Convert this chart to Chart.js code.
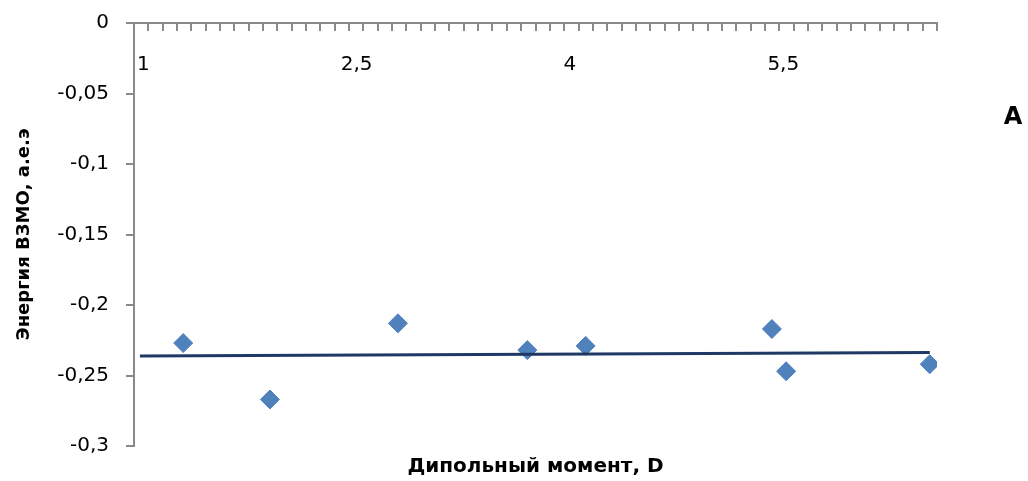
<!DOCTYPE html>
<html><head><meta charset="utf-8">
<script src="https://cdn.jsdelivr.net/npm/chart.js@4"></script>
<style>html,body{margin:0;padding:0;background:#fff}canvas{display:block}</style>
</head><body>
<canvas id="c" width="1028" height="481"></canvas>
<script>
// ---- data ----
const dipoleMoment = [1.28, 1.89, 2.79, 3.70, 4.11, 5.42, 5.52, 6.53];
const homoEnergy   = [-0.227, -0.267, -0.213, -0.232, -0.229, -0.217, -0.247, -0.242];
const trendX = [0.976, 6.53];
const trendY = [-0.2362, -0.2336];
const xTickValues = [1, 2.5, 4, 5.5];
const xTickLabels = ['1', '2,5', '4', '5,5'];
const yTickLabels = ['-0,3', '-0,25', '-0,2', '-0,15', '-0,1', '-0,05', '0'];
const xTitle = 'Дипольный момент, D';
const yTitle = 'Энергия ВЗМО, а.е.э';
const panelLabel = 'A';
const xMin = 0.934, xMax = 6.581, xMinorCount = 56;
const yMin = -0.3, yMax = 0, yStep = 0.05;

const axisGray = '#8a8a8a';
Chart.defaults.font.family = '"DejaVu Sans", sans-serif';

const panelLabelPlugin = {
  id: 'panelLabel',
  afterDraw(chart) {
    const {ctx, chartArea} = chart;
    ctx.save();
    ctx.font = 'bold 24px "DejaVu Sans"';
    ctx.fillStyle = '#000';
    ctx.textAlign = 'center';
    ctx.textBaseline = 'middle';
    ctx.fillText(panelLabel, chartArea.right + 76, chartArea.top + 95);
    ctx.restore();
  }
};

new Chart(document.getElementById('c'), {
  type: 'scatter',
  data: {
    datasets: [
      {
        label: 'trend',
        data: trendX.map((x, i) => ({x, y: trendY[i]})),
        showLine: true,
        borderColor: '#1f3864',
        borderWidth: 3,
        pointRadius: 0,
        order: 0
      },
      {
        label: 'points',
        data: dipoleMoment.map((x, i) => ({x, y: homoEnergy[i]})),
        pointStyle: 'rectRot',
        pointRadius: 9.5,
        backgroundColor: '#4f81bd',
        borderColor: '#4f81bd',
        borderWidth: 1,
        order: 1
      }
    ]
  },
  options: {
    responsive: false,
    animation: false,
    events: [],
    layout: {padding: {top: 23, right: 91, bottom: 0, left: 0}},
    plugins: {
      legend: {display: false},
      tooltip: {enabled: false},
      title: {
        display: true, position: 'bottom', fullSize: false,
        text: xTitle, color: '#000',
        font: {size: 20, weight: 'bold'},
        padding: {top: 9, bottom: 2}
      }
    },
    scales: {
      y: {
        type: 'linear', position: 'left', min: yMin, max: yMax,
        ticks: {stepSize: yStep, color: '#000', font: {size: 20}, padding: 17,
                callback: (v, i) => yTickLabels[i]},
        grid: {drawOnChartArea: false, drawTicks: true, tickLength: 8, color: axisGray, lineWidth: 2},
        border: {display: true, color: axisGray, width: 2},
        title: {display: true, text: yTitle, color: '#000', font: {size: 18, weight: 'bold'},
                padding: {top: 14, bottom: 0}},
        afterFit: s => { s.width = 134; s.paddingTop = 0; s.paddingBottom = 0; }
      },
      x: {
        type: 'linear', position: {y: 0}, min: xMin, max: xMax,
        afterBuildTicks: s => { s.ticks = xTickValues.map(v => ({value: v})); },
        ticks: {autoSkip: false, maxRotation: 0, color: '#000', font: {size: 20}, padding: 30,
                callback: (v, i) => xTickLabels[i]},
        grid: {display: false, drawTicks: false},
        border: {display: false}
      },
      xMinor: {
        type: 'linear', axis: 'x', position: {y: 0}, min: xMin, max: xMax,
        afterBuildTicks: s => {
          const t = [];
          for (let k = 0; k <= xMinorCount; k++) t.push({value: xMin + (xMax - xMin) * k / xMinorCount});
          s.ticks = t;
        },
        ticks: {display: false},
        grid: {drawOnChartArea: false, drawTicks: true, tickLength: 7, color: axisGray, lineWidth: 2},
        border: {display: true, color: axisGray, width: 2}
      }
    }
  },
  plugins: [panelLabelPlugin]
});
</script>
</body></html>
